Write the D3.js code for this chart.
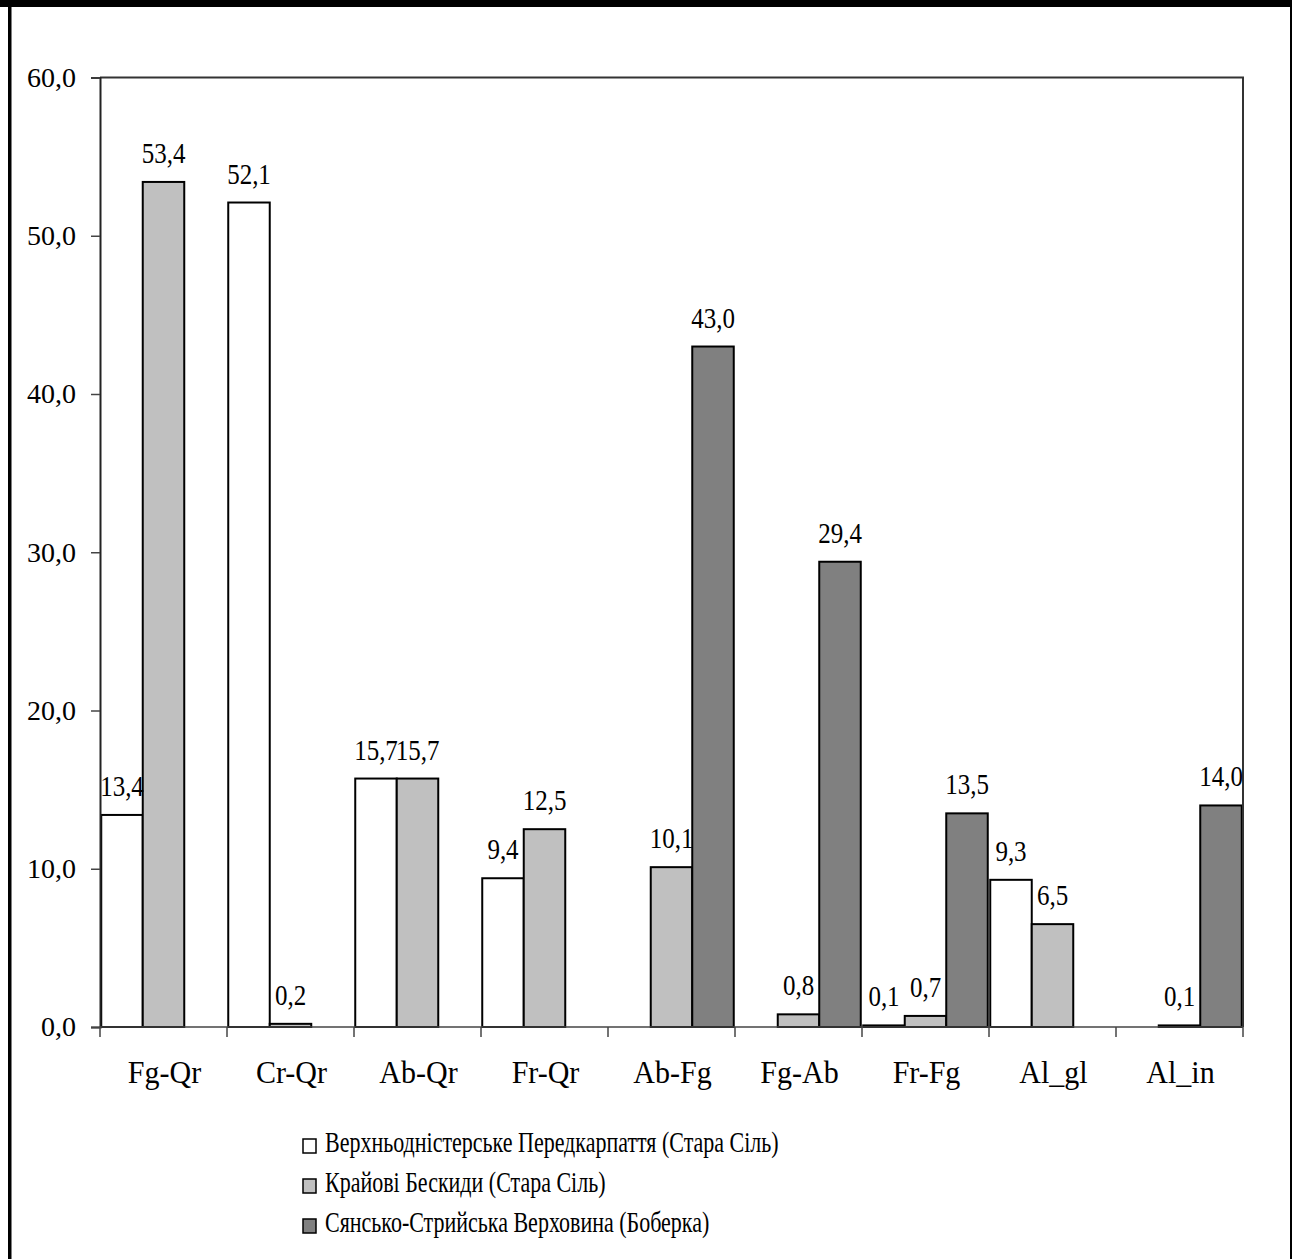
<!DOCTYPE html>
<html>
<head>
<meta charset="utf-8">
<script src="https://cdn.jsdelivr.net/npm/d3@7"></script>
<style>
  html, body { margin: 0; padding: 0; background: #fff; }
  svg { display: block; }
  text { font-family: "Liberation Serif", "Times New Roman", serif; fill: #000; }
</style>
</head>
<body>
<svg id="chart" width="1292" height="1259"></svg>
<script>
const categories = ["Fg-Qr", "Cr-Qr", "Ab-Qr", "Fr-Qr", "Ab-Fg", "Fg-Ab", "Fr-Fg", "Al_gl", "Al_in"];
const seriesNames = [
  "Верхньодністерське Передкарпаття (Стара Сіль)",
  "Крайові Бескиди (Стара Сіль)",
  "Сянсько-Стрийська Верховина (Боберка)"
];
const seriesColors = ["#ffffff", "#c0c0c0", "#808080"];
const valuesS1 = [13.4, 52.1, 15.7, 9.4, null, null, 0.1, 9.3, null];
const valuesS2 = [53.4, 0.2, 15.7, 12.5, 10.1, 0.8, 0.7, 6.5, 0.1];
const valuesS3 = [null, null, null, null, 43.0, 29.4, 13.5, null, 14.0];
const yTicks = [0, 10, 20, 30, 40, 50, 60];

const allSeries = [valuesS1, valuesS2, valuesS3];
const fmt = v => v.toFixed(1).replace(".", ",");

const svg = d3.select("#chart");

// outer frame
svg.append("rect").attr("x", 0).attr("y", 0).attr("width", 1292).attr("height", 7).attr("fill", "#000");
svg.append("rect").attr("x", 8).attr("y", 0).attr("width", 3.5).attr("height", 1259).attr("fill", "#000");
svg.append("rect").attr("x", 1290).attr("y", 0).attr("width", 2).attr("height", 1259).attr("fill", "#000");

const plot = { left: 100, right: 1243, top: 77.5, bottom: 1027 };

const x = d3.scaleBand().domain(categories).range([plot.left, plot.right]).paddingInner(0).paddingOuter(0);
const xs = d3.scaleBand().domain([0, 1, 2]).range([0, x.bandwidth()]).paddingInner(0).paddingOuter(0.03);
const y = d3.scaleLinear().domain([0, 60]).range([plot.bottom, plot.top]);

// bars
const g = svg.append("g");
allSeries.forEach((vals, si) => {
  const data = categories.map((c, i) => ({ c, v: vals[i] })).filter(d => d.v !== null);
  g.selectAll(null).data(data).enter().append("rect")
    .attr("x", d => x(d.c) + xs(si))
    .attr("y", d => y(d.v))
    .attr("width", xs.bandwidth())
    .attr("height", d => y(0) - y(d.v))
    .attr("fill", seriesColors[si])
    .attr("stroke", "#000")
    .attr("stroke-width", 2);
});

// plot frame (top and right)
svg.append("path")
  .attr("d", `M${plot.left},${plot.top}H${plot.right}V${plot.bottom}`)
  .attr("fill", "none").attr("stroke", "#333").attr("stroke-width", 2);

// y axis
const yAxis = d3.axisLeft(y).tickValues(yTicks).tickFormat(fmt).tickSize(9).tickPadding(15);
const ya = svg.append("g").attr("transform", `translate(${plot.left},0)`).call(yAxis);
ya.select(".domain").attr("stroke", "#222").attr("stroke-width", 2);
ya.selectAll(".tick line").attr("stroke", "#444").attr("stroke-width", 1.5);
ya.selectAll(".tick text").attr("font-size", 28).attr("font-family", "Liberation Serif").attr("fill", "#000");

// x axis line and tick marks at category boundaries
svg.append("line").attr("x1", plot.left).attr("x2", plot.right).attr("y1", plot.bottom).attr("y2", plot.bottom)
  .attr("stroke", "#444").attr("stroke-width", 1.5);
const boundaries = categories.map(c => x(c)).concat([plot.right]);
svg.selectAll(null).data(boundaries).enter().append("line")
  .attr("x1", d => d).attr("x2", d => d)
  .attr("y1", plot.bottom).attr("y2", plot.bottom + 10)
  .attr("stroke", "#444").attr("stroke-width", 1.5);

// category labels
svg.selectAll(null).data(categories).enter().append("text")
  .attr("transform", d => `translate(${x(d) + x.bandwidth() / 2 + 1},1083) scale(1,1.08)`)
  .attr("text-anchor", "middle")
  .attr("font-size", 30)
  .text(d => d);

// data labels
allSeries.forEach((vals, si) => {
  const data = categories.map((c, i) => ({ c, v: vals[i] })).filter(d => d.v !== null);
  svg.selectAll(null).data(data).enter().append("text")
    .attr("transform", d => `translate(${x(d.c) + xs(si) + xs.bandwidth() / 2},${y(d.v) - 19}) scale(1,1.18)`)
    .attr("text-anchor", "middle")
    .attr("font-size", 25)
    .text(d => fmt(d.v));
});

// legend
const legend = svg.append("g");
seriesNames.forEach((name, i) => {
  const by = 1152 + i * 40;
  legend.append("rect")
    .attr("x", 303).attr("y", by - 13).attr("width", 13).attr("height", 14)
    .attr("fill", seriesColors[i]).attr("stroke", "#000").attr("stroke-width", 1.5);
  legend.append("text")
    .attr("transform", `translate(325,${by}) scale(0.88,1.18)`)
    .attr("font-size", 25)
    .text(name);
});
</script>
</body>
</html>
